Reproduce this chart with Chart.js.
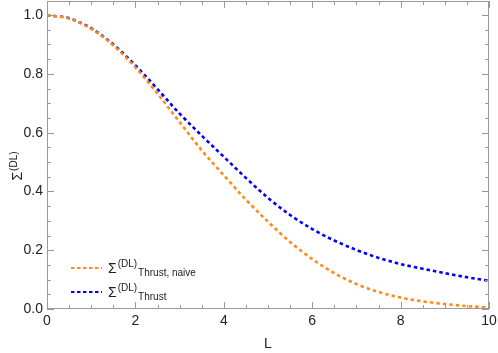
<!DOCTYPE html>
<html>
<head>
<meta charset="utf-8">
<script src="https://cdn.jsdelivr.net/npm/chart.js@4"></script>
<style>
  html, body { margin: 0; padding: 0; background: #fff; }
  #wrap { width: 498px; height: 353px; position: relative; }
</style>
</head>
<body>
<div id="wrap"><canvas id="chart"></canvas></div>
<script>
// values
const L = [0, 0.5, 1, 1.5, 2, 2.5, 3, 3.5, 4, 4.5, 5, 5.5, 6, 6.5, 7, 7.5, 8, 8.5, 9, 9.5, 10];
const sigmaNaive = [1.0, 0.988, 0.953, 0.897, 0.822, 0.733, 0.636, 0.540, 0.455, 0.372, 0.297, 0.228, 0.170, 0.122, 0.085, 0.058, 0.039, 0.026, 0.017, 0.010, 0.005];
const sigmaThrust = [1.0, 0.989, 0.955, 0.900, 0.829, 0.748, 0.665, 0.590, 0.518, 0.446, 0.378, 0.320, 0.272, 0.233, 0.201, 0.174, 0.153, 0.137, 0.122, 0.108, 0.096];

const xMajor = [0, 2, 4, 6, 8, 10];
const yMajor = [0, 0.2, 0.4, 0.6, 0.8, 1.0];

const ORANGE = '#ff8c1a';
const BLUE = '#0000ff';
const FRAME = '#9a9a9a';
const FONT = '"Liberation Sans", Arial, sans-serif';

const isMult = (v, s) => Math.abs(v / s - Math.round(v / s)) < 1e-6;
const noPad = s => { s.paddingTop = 0; s.paddingBottom = 0; s.paddingLeft = 0; s.paddingRight = 0; };

// frame + inward ticks (Mathematica style), plus titles and legend
const framePlugin = {
    id: 'frame',
    afterDraw(chart) {
        const { ctx, chartArea: a, scales } = chart;
        const xs = scales.x, ys = scales.y;
        ctx.save();
        ctx.strokeStyle = FRAME;
        ctx.lineWidth = 1;
        ctx.strokeRect(a.left + 0.5, a.top + 0.5, a.right - a.left - 1, a.bottom - a.top - 1);

        ctx.beginPath();
        for (let v = 0; v <= 10.0001; v += 0.5) {
            const px = Math.round(xs.getPixelForValue(v)) + 0.5;
            const len = isMult(v, 2) ? 7 : 4;
            ctx.moveTo(px, a.bottom); ctx.lineTo(px, a.bottom - len);
            ctx.moveTo(px, a.top); ctx.lineTo(px, a.top + len);
        }
        for (let v = 0; v <= 1.0001; v += 0.05) {
            const py = Math.round(ys.getPixelForValue(v)) + 0.5;
            const len = isMult(v, 0.2) ? 7 : 4;
            ctx.moveTo(a.left, py); ctx.lineTo(a.left + len, py);
            ctx.moveTo(a.right, py); ctx.lineTo(a.right - len, py);
        }
        ctx.stroke();

        // axis titles
        ctx.fillStyle = '#222';
        ctx.font = '14px ' + FONT;
        ctx.textAlign = 'center';
        ctx.textBaseline = 'alphabetic';
        ctx.fillText('L', (a.left + a.right) / 2, 348);

        ctx.save();
        ctx.translate(22, 166);
        ctx.rotate(-Math.PI / 2);
        ctx.textAlign = 'left';
        ctx.font = '14px ' + FONT;
        const wS = ctx.measureText('Σ').width;
        ctx.font = '10px ' + FONT;
        const wD = ctx.measureText('(DL)').width;
        const x0 = -(wS + 1 + wD) / 2;
        ctx.font = '14px ' + FONT;
        ctx.fillText('Σ', x0, 0);
        ctx.font = '10px ' + FONT;
        ctx.fillText('(DL)', x0 + wS + 1, -5);
        ctx.restore();

        // legend
        const rows = [
            { color: ORANGE, sub: 'Thrust, naive', y: 268 },
            { color: BLUE, sub: 'Thrust', y: 292 }
        ];
        rows.forEach(r => {
            ctx.strokeStyle = r.color;
            ctx.lineWidth = 2;
            ctx.setLineDash([3.5, 2.5]);
            ctx.beginPath();
            ctx.moveTo(71, r.y); ctx.lineTo(102, r.y);
            ctx.stroke();
            ctx.setLineDash([]);
            ctx.fillStyle = '#222';
            ctx.textAlign = 'left';
            ctx.font = '14px ' + FONT;
            ctx.fillText('Σ', 108, r.y + 4.5);
            const w = ctx.measureText('Σ').width;
            ctx.font = '10px ' + FONT;
            ctx.fillText('(DL)', 108 + w + 1, r.y - 1);
            const w2 = ctx.measureText('(DL)').width;
            ctx.fillText(r.sub, 108 + w + 1 + w2 + 1, r.y + 7.5);
        });
        ctx.restore();
    }
};

Chart.defaults.font.family = FONT;
Chart.defaults.font.size = 14;
Chart.defaults.color = '#222';

new Chart(document.getElementById('chart'), {
    type: 'line',
    data: {
        datasets: [
            {
                label: 'naive',
                data: L.map((x, i) => ({ x, y: sigmaNaive[i] })),
                borderColor: ORANGE,
                borderWidth: 2.6,
                borderDash: [3.5, 3],
                pointRadius: 0,
                fill: false,
                cubicInterpolationMode: 'monotone'
            },
            {
                label: 'thrust',
                data: L.map((x, i) => ({ x, y: sigmaThrust[i] })),
                borderColor: BLUE,
                borderWidth: 2.6,
                borderDash: [3.5, 3],
                pointRadius: 0,
                fill: false,
                cubicInterpolationMode: 'monotone'
            }
        ]
    },
    options: {
        responsive: true,
        maintainAspectRatio: false,
        animation: false,
        layout: { padding: { left: 0, right: 9, top: 1, bottom: 0 } },
        plugins: { legend: { display: false }, tooltip: { enabled: false } },
        scales: {
            x: {
                type: 'linear',
                min: 0,
                max: 10,
                grid: { display: false, drawTicks: false },
                border: { display: false },
                afterBuildTicks: s => { s.ticks = xMajor.map(v => ({ value: v })); },
                ticks: { autoSkip: false, maxRotation: 0, padding: 4, callback: v => String(v) },
                afterFit: s => { s.height = 44; noPad(s); }
            },
            y: {
                type: 'linear',
                min: 0,
                max: 1.048,
                grid: { display: false, drawTicks: false },
                border: { display: false },
                afterBuildTicks: s => { s.ticks = yMajor.map(v => ({ value: v })); },
                ticks: { autoSkip: false, padding: 4, callback: v => v.toFixed(1) },
                afterFit: s => { s.width = 47; noPad(s); }
            }
        }
    },
    plugins: [framePlugin]
});
</script>
</body>
</html>
